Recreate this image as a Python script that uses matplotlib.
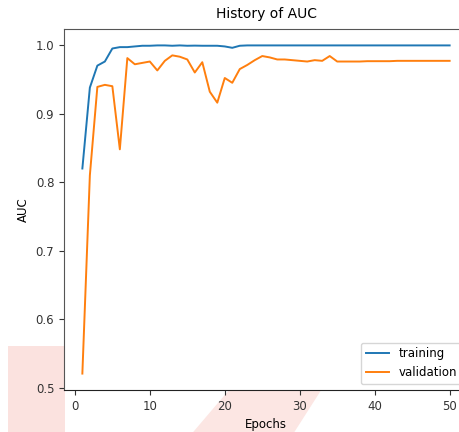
import numpy as np
import matplotlib.pyplot as plt
from matplotlib.patches import Polygon, Rectangle

# AUC per epoch from the training history
epochs = np.arange(1, 51)
train_auc = [0.820, 0.938, 0.970, 0.976, 0.995, 0.997, 0.997, 0.998, 0.999, 0.999,
             0.9995, 0.9995, 0.999, 0.9995, 0.999, 0.9992, 0.999, 0.999, 0.999, 0.998,
             0.996, 0.999, 0.9995, 0.9995, 0.9995, 0.9995, 0.9995, 0.9995, 0.9995, 0.9995,
             0.9995, 0.9995, 0.9995, 0.9995, 0.9995, 0.9995, 0.9995, 0.9995, 0.9995, 0.9995,
             0.9995, 0.9995, 0.9995, 0.9995, 0.9995, 0.9995, 0.9995, 0.9995, 0.9995, 0.9995]
val_auc = [0.521, 0.810, 0.939, 0.942, 0.940, 0.848, 0.981, 0.972, 0.974, 0.976,
           0.963, 0.977, 0.985, 0.983, 0.979, 0.960, 0.975, 0.932, 0.916, 0.952,
           0.945, 0.965, 0.971, 0.978, 0.984, 0.982, 0.979, 0.979, 0.978, 0.977,
           0.976, 0.978, 0.977, 0.984, 0.976, 0.976, 0.976, 0.976, 0.9765, 0.9765,
           0.9765, 0.9765, 0.977, 0.977, 0.977, 0.977, 0.977, 0.977, 0.977, 0.977]

fig = plt.figure(figsize=(4.6, 4.32), dpi=100)

# faint pink stamp behind the lower margin
fig.patches.append(Rectangle((0.017, 0.0), 0.125, 0.2, transform=fig.transFigure,
                             facecolor='#fbe2df', edgecolor='none', zorder=-5))
fig.patches.append(Polygon([[0.42, 0.0], [0.50, 0.10], [0.70, 0.10], [0.64, 0.0]],
                           closed=True, transform=fig.transFigure,
                           facecolor='#fce6e3', edgecolor='none', zorder=-5))

ax = fig.add_axes([64/460, 42/432, 404/460, 361/432])
ax.plot(epochs, train_auc, color='#1f77b4', lw=1.4, label='training')
ax.plot(epochs, val_auc, color='#ff7f0e', lw=1.4, label='validation')

ax.set_title('History of AUC', fontsize=10, pad=8)
ax.set_xlabel('Epochs', fontsize=8.5)
ax.set_ylabel('AUC', fontsize=8.5)
ax.tick_params(labelsize=8.5, colors='#333333')
ax.set_xticks([0, 10, 20, 30, 40, 50])
ax.set_yticks([0.5, 0.6, 0.7, 0.8, 0.9, 1.0])
for s in ax.spines.values():
    s.set_color('#555555')
ax.spines['bottom'].set_color('#222222')
ax.legend(loc='lower right', fontsize=8.5)

fig.savefig('out.png', dpi=100)
